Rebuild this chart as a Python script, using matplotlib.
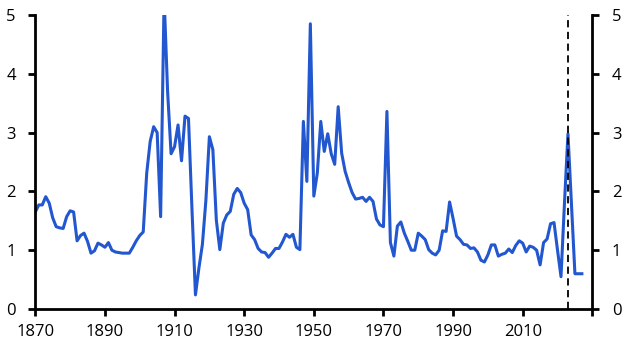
import numpy as np
import matplotlib.pyplot as plt

# Annual values, 1870-2027
years = np.arange(1870, 2028)
values = [
    # 1870s
    1.65, 1.77, 1.77, 1.91, 1.80, 1.55, 1.40, 1.38, 1.37, 1.57,
    # 1880s
    1.67, 1.65, 1.16, 1.25, 1.29, 1.15, 0.95, 0.99, 1.12, 1.09,
    # 1890s
    1.05, 1.13, 1.00, 0.97, 0.96, 0.95, 0.95, 0.95, 1.05, 1.16,
    # 1900s
    1.25, 1.31, 2.31, 2.85, 3.10, 3.00, 1.57, 5.30, 3.70, 2.64,
    # 1910s
    2.76, 3.13, 2.52, 3.28, 3.24, 1.70, 0.24, 0.70, 1.10, 1.85,
    # 1920s
    2.93, 2.71, 1.51, 1.01, 1.46, 1.60, 1.66, 1.95, 2.05, 1.98,
    # 1930s
    1.80, 1.69, 1.26, 1.18, 1.03, 0.97, 0.96, 0.88, 0.95, 1.03,
    # 1940s
    1.03, 1.14, 1.27, 1.22, 1.27, 1.05, 1.01, 3.19, 2.17, 4.85,
    # 1950s
    1.92, 2.31, 3.19, 2.68, 2.98, 2.64, 2.46, 3.44, 2.65, 2.34,
    # 1960s
    2.15, 1.98, 1.87, 1.88, 1.90, 1.83, 1.90, 1.83, 1.53, 1.43,
    # 1970s
    1.40, 3.36, 1.13, 0.90, 1.41, 1.48, 1.29, 1.15, 1.00, 1.00,
    # 1980s
    1.29, 1.24, 1.18, 1.01, 0.95, 0.92, 1.00, 1.33, 1.32, 1.82,
    # 1990s
    1.54, 1.24, 1.18, 1.10, 1.09, 1.03, 1.04, 0.97, 0.83, 0.80,
    # 2000s
    0.92, 1.09, 1.09, 0.90, 0.93, 0.95, 1.02, 0.96, 1.08, 1.16,
    # 2010s
    1.12, 0.97, 1.07, 1.05, 1.00, 0.75, 1.13, 1.19, 1.45, 1.47,
    # 2020s
    1.00, 0.55, 1.80, 2.98, 1.80, 0.60, 0.60, 0.60,
]
forecast_start = 2023

xticks = [1870, 1890, 1910, 1930, 1950, 1970, 1990, 2010, 2030]
xtick_labels = ['1870', '1890', '1910', '1930', '1950', '1970', '1990', '2010', '']
yticks = [0, 1, 2, 3, 4, 5]

plt.rcParams['font.family'] = ['Open Sans', 'DejaVu Sans']

fig = plt.figure(figsize=(6.35, 3.48), dpi=100)
ax = fig.add_axes([0.0556, 0.112, 0.8772, 0.845])

ax.plot(years, values, color='#2257cf', linewidth=2.2, solid_joinstyle='round')
ax.axvline(forecast_start, color='black', linestyle=(0, (4, 2.5)), linewidth=1.3)

ax.set_xlim(1870, 2030)
ax.set_ylim(0, 5)
ax.set_xticks(xticks)
ax.set_xticklabels(xtick_labels)
ax.set_yticks(yticks)

ax.spines['top'].set_visible(False)
for side in ['left', 'right', 'bottom']:
    ax.spines[side].set_linewidth(2)
    ax.spines[side].set_color('black')

ax.tick_params(axis='both', direction='out', length=5, width=2, labelsize=12,
               colors='black')
ax.tick_params(axis='y', left=True, right=True, labelleft=True, labelright=True, pad=9)
ax.tick_params(axis='x', pad=6)

fig.savefig('out.png', dpi=100)
